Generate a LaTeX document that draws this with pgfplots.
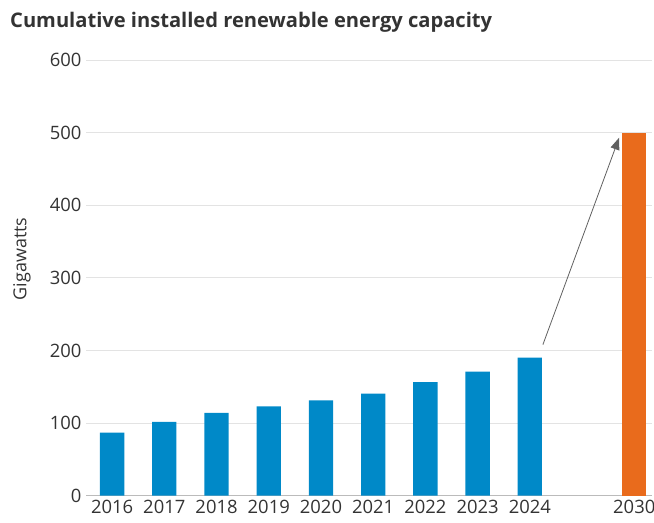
\documentclass[border=0pt]{standalone}
\usepackage{pgfplots}
\pgfplotsset{compat=1.18}
\usetikzlibrary{arrows.meta}
\usepackage{fontspec}
\setmainfont{Open Sans}
\definecolor{barblue}{HTML}{0089C8}
\definecolor{barorange}{HTML}{E96B1C}
\definecolor{txt}{HTML}{333333}
\definecolor{gridc}{HTML}{E3E3E3}
\definecolor{axisc}{HTML}{BBBBBB}
\definecolor{arrowc}{HTML}{606060}
\begin{document}
\begin{tikzpicture}[x=1bp,y=1bp]
\path[use as bounding box] (0,0) rectangle (654,523);
\node[anchor=base west, font=\bfseries\fontsize{20.2}{23}\selectfont, text=txt, inner sep=0] at (10,495) {Cumulative installed renewable energy capacity};
\node[rotate=90, font=\fontsize{18}{21}\selectfont, text=txt, inner sep=0] at (22,264) {Gigawatts};
\begin{axis}[
  at={(86bp,27.3bp)}, anchor=south west,
  scale only axis, width=566bp, height=435.7bp,
  xmin=-0.5, xmax=10.34, ymin=0, ymax=600,
  ytick={0,100,...,600},
  xtick={0,1,2,3,4,5,6,7,8,10},
  xticklabels={2016,2017,2018,2019,2020,2021,2022,2023,2024,2030},
  ymajorgrids, grid style={gridc, line width=0.9bp},
  axis x line=bottom, axis y line=left,
  x axis line style={axisc, line width=1bp, -},
  y axis line style={draw=none},
  major tick length=0pt,
  tick label style={text=txt, font=\fontsize{18.5}{21}\selectfont},
  /pgf/number format/assume math mode=true,
  yticklabel style={xshift=-1bp},
  xticklabel style={yshift=-1bp},
  ybar, bar shift=0pt, bar width=0.466,
]
\addplot[fill=barblue, draw=none] coordinates {
 (0,87) (1,101.5) (2,114) (3,123) (4,131.4) (5,140.7) (6,156.3) (7,170.7) (8,190)};
\addplot[fill=barorange, draw=none] coordinates {(10,500)};
\draw[arrowc, line width=0.8bp, -{Triangle[length=12bp,width=9bp]}] (axis cs:8.25,208) -- (axis cs:9.71,493);
\end{axis}
\end{tikzpicture}
\end{document}
